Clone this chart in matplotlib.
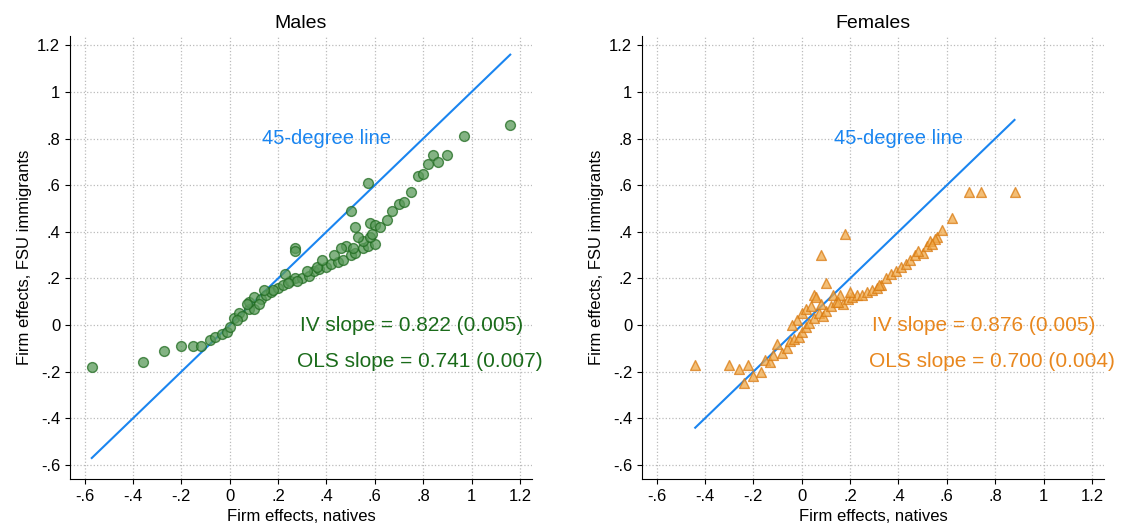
import matplotlib.pyplot as plt
import numpy as np

# Males: (native firm effect, FSU immigrant firm effect)
male_x = [-0.57, -0.36, -0.27, -0.20, -0.15, -0.12, -0.08, -0.06, -0.03, -0.01, 0.00, 0.02, 0.04, 0.05,
          0.08, 0.10, 0.08, 0.10, 0.13, 0.15, 0.17, 0.20, 0.22, 0.25, 0.27, 0.30, 0.33, 0.35, 0.37, 0.40,
          0.42, 0.45, 0.47, 0.50, 0.52, 0.55, 0.57, 0.60, 0.27, 0.27, 0.50, 0.57, 0.58, 0.60, 0.62, 0.65,
          0.67, 0.70, 0.72, 0.75, 0.78, 0.80, 0.82, 0.84, 0.86, 0.90, 0.97, 1.16, 0.52, 0.55, 0.53, 0.58,
          0.59, 0.12, 0.18, 0.23, 0.28, 0.32, 0.36, 0.43, 0.48, 0.07, 0.03, 0.14, 0.24, 0.38, 0.46, 0.51]
male_y = [-0.18, -0.16, -0.11, -0.09, -0.09, -0.09, -0.065, -0.05, -0.04, -0.03, -0.01, 0.03, 0.05, 0.04,
          0.07, 0.07, 0.10, 0.12, 0.11, 0.13, 0.14, 0.16, 0.17, 0.19, 0.20, 0.20, 0.21, 0.23, 0.24, 0.25,
          0.26, 0.27, 0.28, 0.30, 0.31, 0.33, 0.34, 0.35, 0.33, 0.32, 0.49, 0.61, 0.44, 0.43, 0.42, 0.45,
          0.49, 0.52, 0.53, 0.57, 0.64, 0.65, 0.69, 0.73, 0.70, 0.73, 0.81, 0.86, 0.42, 0.36, 0.38, 0.38,
          0.39, 0.09, 0.15, 0.22, 0.19, 0.23, 0.25, 0.30, 0.34, 0.09, 0.02, 0.15, 0.18, 0.28, 0.33, 0.33]

female_x = [-0.44, -0.30, -0.26, -0.22, -0.24, -0.20, -0.17, -0.15, -0.13, -0.12, -0.08, -0.06, -0.05,
            -0.03, -0.01, 0.00, 0.02, 0.03, 0.05, 0.07, 0.09, 0.10, 0.12, 0.14, 0.17, 0.19, 0.21, 0.23,
            0.25, 0.27, 0.29, 0.31, 0.33, 0.35, 0.37, 0.39, 0.41, 0.43, 0.45, 0.47, 0.50, 0.52, 0.53,
            0.56, 0.58, 0.62, 0.69, 0.74, 0.88, 0.08, 0.18, 0.05, 0.10, 0.00, 0.06, 0.02, 0.13, 0.16,
            -0.02, 0.04, 0.08, 0.15, 0.20, 0.32, 0.48, 0.55, 0.54, -0.10, -0.04]
female_y = [-0.17, -0.17, -0.19, -0.17, -0.25, -0.22, -0.20, -0.15, -0.16, -0.13, -0.12, -0.10, -0.07,
            -0.06, -0.05, -0.03, -0.01, 0.01, 0.03, 0.05, 0.04, 0.06, 0.08, 0.10, 0.09, 0.11, 0.12, 0.13,
            0.13, 0.14, 0.15, 0.16, 0.17, 0.20, 0.22, 0.23, 0.25, 0.26, 0.28, 0.30, 0.31, 0.34, 0.36,
            0.38, 0.41, 0.46, 0.57, 0.57, 0.57, 0.30, 0.39, 0.13, 0.18, 0.05, 0.12, 0.07, 0.13, 0.13,
            0.02, 0.08, 0.09, 0.10, 0.14, 0.17, 0.32, 0.37, 0.35, -0.08, 0.00]

male_range = [-0.57, 1.16]
female_range = [-0.44, 0.88]

ticks = [-0.6, -0.4, -0.2, 0, 0.2, 0.4, 0.6, 0.8, 1, 1.2]
tick_labels = ['-.6', '-.4', '-.2', '0', '.2', '.4', '.6', '.8', '1', '1.2']

W, H = 1123, 526
plt.rcParams['font.family'] = 'Liberation Sans'
fig = plt.figure(figsize=(W / 100, H / 100), dpi=100)
# axes boxes in pixels: left, top, width, height
boxes = [(70, 36, 462, 443), (642, 36, 462, 443)]
axes = [fig.add_axes([l / W, 1 - (t + h) / H, w / W, h / H]) for l, t, w, h in boxes]

panels = [
    (axes[0], 'Males', male_x, male_y, male_range, 'o', '#5a9a5a', '#1f6b1f', '#1a6b1a',
     ['IV slope = 0.822 (0.005)', 'OLS slope = 0.741 (0.007)']),
    (axes[1], 'Females', female_x, female_y, female_range, '^', '#f0a848', '#d97a10', '#e8871e',
     ['IV slope = 0.876 (0.005)', 'OLS slope = 0.700 (0.004)']),
]

for ax, title, xs, ys, rng, mk, fc, ec, tc, labels in panels:
    ax.plot(rng, rng, color='#1a85f0', lw=1.5, zorder=2)
    ax.scatter(xs, ys, marker=mk, s=50, facecolor=fc, edgecolor=ec, alpha=0.75, lw=1, zorder=3)
    ax.set_xlim(-0.66, 1.25)
    ax.set_ylim(-0.66, 1.24)
    ax.set_xticks(ticks)
    ax.set_xticklabels(tick_labels)
    ax.set_yticks(ticks)
    ax.set_yticklabels(tick_labels)
    ax.tick_params(axis='both', labelsize=12)
    ax.grid(True, ls=':', color='#bbbbbb', lw=0.9)
    for s in ['top', 'right']:
        ax.spines[s].set_visible(False)
    ax.set_title(title, fontsize=14)
    ax.set_xlabel('Firm effects, natives', fontsize=12)
    ax.set_ylabel('Firm effects, FSU immigrants', fontsize=12)
    ax.text(0.40, 0.80, '45-degree line', color='#1a85f0', fontsize=14.5, ha='center', va='center')
    ax.text(0.29, 0.0, labels[0], color=tc, fontsize=15, ha='left', va='center')
    ax.text(0.28, -0.155, labels[1], color=tc, fontsize=15, ha='left', va='center')

plt.savefig('out.png')
